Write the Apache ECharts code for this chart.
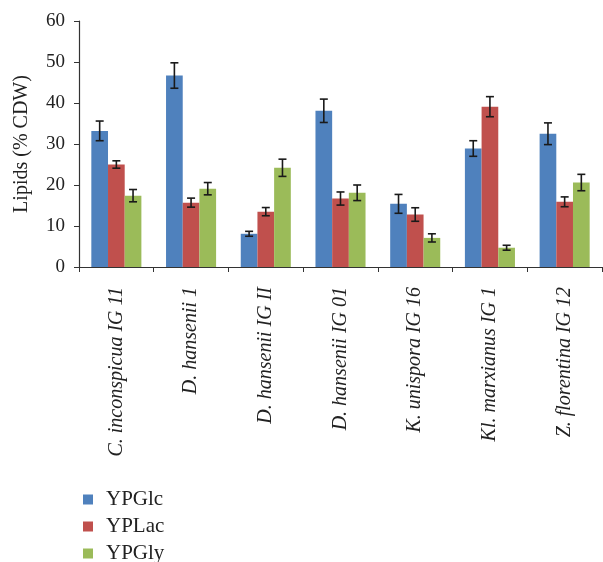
<!DOCTYPE html>
<html>
<head>
<meta charset="utf-8">
<script src="https://cdn.jsdelivr.net/npm/echarts@6/dist/echarts.min.js"></script>
<style>html,body{margin:0;padding:0;background:#fff;}#c{width:603px;height:562px;}</style>
</head>
<body>
<div id="c"></div>
<script>
var categories = ['C. inconspicua IG 11','D. hansenii 1','D. hansenii IG II','D. hansenii IG 01','K. unispora IG 16','Kl. marxianus IG 1','Z. florentina IG 12'];
var seriesNames = ['YPGlc','YPLac','YPGly'];
var ypglc = [33.2, 46.7, 8.1, 38.1, 15.4, 28.9, 32.5];
var yplac = [25.0, 15.7, 13.5, 16.7, 12.8, 39.1, 15.9];
var ypgly = [17.4, 19.1, 24.2, 18.1, 7.1, 4.7, 20.6];
var ypglcErr = [2.4, 3.1, 0.6, 2.85, 2.3, 1.9, 2.65];
var yplacErr = [0.9, 1.1, 1.0, 1.6, 1.65, 2.45, 1.2];
var ypglyErr = [1.5, 1.5, 2.1, 1.9, 1.0, 0.6, 2.0];
var yTicks = [0, 10, 20, 30, 40, 50, 60];

var colors = ['#4F81BD', '#C0504D', '#9BBB59'];
var values = [ypglc, yplac, ypgly];
var errs = [ypglcErr, yplacErr, ypglyErr];
var gapFrac = 0.33;
var serif = '"Liberation Serif", "DejaVu Serif", serif';

function errSeries(k) {
  var data = values[k].map(function (v, i) { return [i, v, errs[k][i]]; });
  return {
    type: 'custom',
    name: seriesNames[k] + ' err',
    z: 10,
    silent: true,
    renderItem: function (params, api) {
      var i = api.value(0), v = api.value(1), e = api.value(2);
      var band = api.size([1, 0])[0];
      var bw = band * (1 - gapFrac) / 3;
      var off = (k - 1) * bw;
      var top = api.coord([i, v + e]);
      var bot = api.coord([i, v - e]);
      var x = top[0] + off;
      var cap = 4;
      var st = { stroke: '#1a1a1a', lineWidth: 1.6 };
      return {
        type: 'group',
        children: [
          { type: 'line', shape: { x1: x, y1: top[1], x2: x, y2: bot[1] }, style: st },
          { type: 'line', shape: { x1: x - cap, y1: top[1], x2: x + cap, y2: top[1] }, style: st },
          { type: 'line', shape: { x1: x - cap, y1: bot[1], x2: x + cap, y2: bot[1] }, style: st }
        ]
      };
    },
    encode: { x: 0, y: 1 },
    data: data
  };
}

var series = [];
for (var k = 0; k < 3; k++) {
  series.push({
    type: 'bar',
    name: seriesNames[k],
    data: values[k],
    barGap: '0%',
    barCategoryGap: (gapFrac * 100) + '%',
    itemStyle: { color: colors[k] },
    animation: false
  });
}
for (var k2 = 0; k2 < 3; k2++) series.push(errSeries(k2));

var chart = echarts.init(document.getElementById('c'), null, { renderer: 'canvas' });
chart.setOption({
  animation: false,
  backgroundColor: '#fff',
  grid: { left: 79, top: 21, width: 523, height: 246, containLabel: false },
  legend: {
    data: seriesNames,
    orient: 'vertical',
    left: 78,
    top: 484,
    height: 78,
    itemWidth: 10,
    itemHeight: 10,
    itemGap: 6,
    icon: 'rect',
    textStyle: { fontFamily: serif, fontSize: 21, lineHeight: 20, color: '#222', padding: [0, 0, 0, 8] }
  },
  xAxis: {
    type: 'category',
    data: categories,
    axisLine: { lineStyle: { color: '#333', width: 1.2 } },
    axisTick: { show: true, length: 5, lineStyle: { color: '#333' } },
    axisLabel: {
      rotate: 90,
      margin: 20,
      interval: 0,
      fontFamily: serif,
      fontStyle: 'italic',
      fontSize: 20,
      color: '#222'
    }
  },
  yAxis: {
    type: 'value',
    min: 0,
    max: 60,
    interval: 10,
    name: 'Lipids (% CDW)',
    nameLocation: 'middle',
    nameGap: 47,
    nameTextStyle: { fontFamily: serif, fontSize: 20, color: '#222' },
    axisLine: { show: true, lineStyle: { color: '#333', width: 1.2 } },
    axisTick: { show: true, length: 5, lineStyle: { color: '#333' } },
    splitLine: { show: false },
    axisLabel: {
      fontFamily: serif, fontSize: 19, color: '#222', margin: 14,
      formatter: function (v) { return yTicks.indexOf(v) >= 0 ? String(v) : ''; }
    }
  },
  series: series
});
</script>
</body>
</html>
